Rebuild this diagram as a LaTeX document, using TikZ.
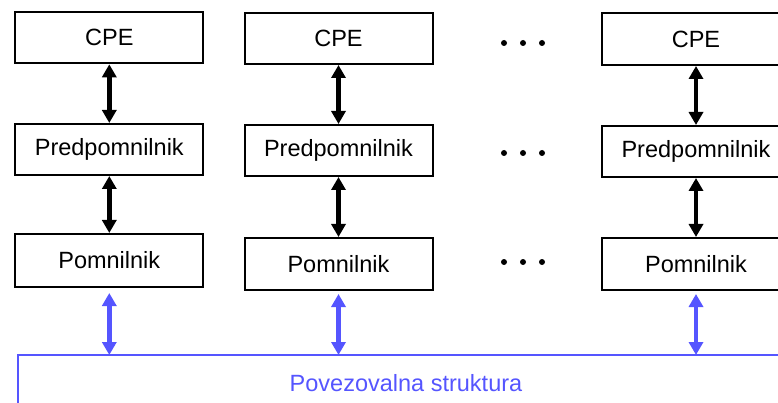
\documentclass[tikz,border=0pt]{standalone}
\usepackage{fontspec}
\setmainfont{Liberation Sans}
\usetikzlibrary{arrows.meta}
\definecolor{busblue}{RGB}{85,85,255}
\tikzset{
  unitbox/.style={draw=black, line width=2pt, fill=white, minimum width=188pt, minimum height=51pt, inner sep=0pt, font=\fontsize{23.5}{28}\selectfont},
  blackarrow/.style={line width=4.5pt, black, {Triangle[width=14pt,length=13pt]}-{Triangle[width=14pt,length=13pt]}},
  bluearrow/.style={line width=4.5pt, busblue, {Triangle[width=14pt,length=13pt]}-{Triangle[width=14pt,length=13pt]}},
  dotmark/.style={circle, fill=black, inner sep=0pt, minimum size=6pt},
}
\begin{document}
\begin{tikzpicture}[x=1pt, y=-1pt]
\useasboundingbox (0,0) rectangle (778,403);
\clip (0,0) rectangle (778,403);
% column 1
\node[unitbox] (cpe1) at (109.3,37.8) {CPE};
\node[unitbox] (pre1) at (109.3,149.5) {Predpomnilnik};
\node[unitbox, minimum height=53pt] (pom1) at (109.3,260.5) {Pomnilnik};
% column 2
\node[unitbox] (cpe2) at (338.5,38.5) {CPE};
\node[unitbox] (pre2) at (338.5,150.5) {Predpomnilnik};
\node[unitbox, minimum height=52pt] (pom2) at (338.5,264) {Pomnilnik};
% column 3
\node[unitbox, minimum height=52pt] (cpe3) at (696,39) {CPE};
\node[unitbox] (pre3) at (696,151.5) {Predpomnilnik};
\node[unitbox, minimum height=52pt] (pom3) at (696,264) {Pomnilnik};
% dots
\foreach \y/\r in {43/a,153/b,262/c}{
  \node[dotmark] (d1\r) at (504,\y) {};
  \node[dotmark] (d2\r) at (523,\y) {};
  \node[dotmark] (d3\r) at (542,\y) {};
}
% black arrows
\draw[blackarrow] (cpe1.south) -- (pre1.north);
\draw[blackarrow] (pre1.south) -- (pom1.north);
\draw[blackarrow] (cpe2.south) -- (pre2.north);
\draw[blackarrow] (pre2.south) -- (pom2.north);
\draw[blackarrow] (cpe3.south) -- (pre3.north);
\draw[blackarrow] (pre3.south) -- (pom3.north);
% interconnect
\draw[busblue, line width=2pt] (17.5,430) -- (17.5,355) -- (800,355);
\node[text=busblue, anchor=base, font=\fontsize{23.5}{28}\selectfont] (bus) at (406,391) {Povezovalna struktura};
\coordinate (b1) at (109.3,355);
\coordinate (b2) at (338.5,355);
\coordinate (b3) at (696,355);
\draw[bluearrow] ([yshift=-5pt]pom1.south) -- (b1);
\draw[bluearrow] ([yshift=-3pt]pom2.south) -- (b2);
\draw[bluearrow] ([yshift=-3pt]pom3.south) -- (b3);
\end{tikzpicture}
\end{document}
